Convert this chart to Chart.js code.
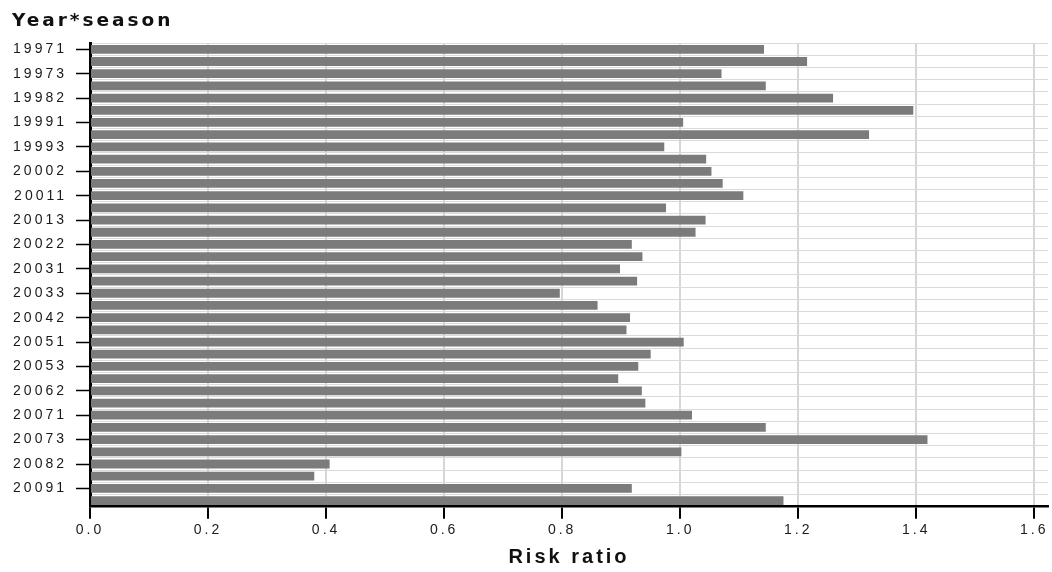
<!DOCTYPE html>
<html>
<head>
<meta charset="utf-8">
<script src="https://cdn.jsdelivr.net/npm/chart.js@4/dist/chart.umd.min.js"></script>
<style>
  html, body { margin: 0; padding: 0; background: #fff; }
  #c { display: block; }
</style>
</head>
<body>
<canvas id="c" width="1052" height="572"></canvas>
<script>
const categories = [
  '19971','19972','19973','19981','19982','19983','19991','19992','19993',
  '20001','20002','20003','20011','20012','20013','20021','20022','20023',
  '20031','20032','20033','20041','20042','20043','20051','20052','20053',
  '20061','20062','20063','20071','20072','20073','20081','20082','20083',
  '20091','20092'
];
const riskRatio = [
  1.142, 1.215, 1.070, 1.145, 1.259, 1.395, 1.005, 1.320, 0.973,
  1.044, 1.053, 1.072, 1.107, 0.976, 1.043, 1.026, 0.918, 0.936,
  0.898, 0.927, 0.796, 0.860, 0.915, 0.909, 1.006, 0.950, 0.929,
  0.895, 0.935, 0.941, 1.020, 1.145, 1.419, 1.002, 0.406, 0.380,
  0.918, 1.175
];
const xTickValues = [0, 0.2, 0.4, 0.6, 0.8, 1.0, 1.2, 1.4, 1.6];
const titleText = 'Year*season';
const xTitleText = 'Risk ratio';

const spacing = {
  id: 'spacing',
  afterInit(chart) { chart.ctx.letterSpacing = '3px'; },
  beforeUpdate(chart) { chart.ctx.letterSpacing = '3px'; },
  beforeDraw(chart) { chart.ctx.letterSpacing = '3px'; }
};

new Chart(document.getElementById('c'), {
  type: 'bar',
  data: {
    labels: categories,
    datasets: [{
      data: riskRatio,
      backgroundColor: '#7b7b7b',
      borderWidth: 0,
      barPercentage: 0.72,
      categoryPercentage: 1.0,
      yAxisID: 'y'
    }]
  },
  plugins: [spacing],
  options: {
    indexAxis: 'y',
    responsive: false,
    animation: false,
    layout: { padding: { left: 12, right: 4, top: 0, bottom: 0 } },
    plugins: {
      legend: { display: false },
      tooltip: { enabled: false },
      title: {
        display: true,
        text: titleText,
        align: 'start',
        color: '#111',
        font: { family: 'DejaVu Sans', weight: 'bold', size: 18.5 },
        padding: { top: 10, bottom: 11 }
      }
    },
    scales: {
      x: {
        type: 'linear',
        min: 0,
        max: 1.6232,
        afterBuildTicks(scale) {
          scale.ticks = xTickValues.map(v => ({ value: v }));
        },
        afterFit(scale) { scale.height = 65.3; },
        grid: {
          color: '#d6d6d6',
          lineWidth: 2,
          tickColor: '#000',
          tickLength: 12,
          tickWidth: 2
        },
        border: { display: true, color: '#000', width: 2.5 },
        ticks: {
          color: '#1a1a1a',
          padding: 3,
          font: { family: 'Liberation Sans', size: 14 },
          callback: v => Number(v).toFixed(1)
        },
        title: {
          display: true,
          text: xTitleText,
          color: '#111',
          font: { family: 'Liberation Sans', weight: 'bold', size: 20 },
          padding: { top: 0, bottom: 3 }
        }
      },
      y: {
        type: 'category',
        position: 'left',
        offset: true,
        afterFit(scale) { scale.width = 0; },
        grid: {
          offset: true,
          color: '#dadada',
          lineWidth: 1,
          drawTicks: false
        },
        border: { display: false },
        ticks: { display: false }
      },
      y2: {
        type: 'category',
        position: 'left',
        offset: true,
        afterFit(scale) { scale.width = 78; },
        grid: {
          offset: false,
          drawOnChartArea: false,
          tickLength: 14,
          tickWidth: 1.5,
          tickColor: ctx => (ctx.index % 2 === 0 ? '#000' : 'rgba(0,0,0,0)')
        },
        border: { display: true, color: '#000', width: 3 },
        ticks: {
          autoSkip: false,
          padding: 9,
          color: '#1a1a1a',
          font: { family: 'Liberation Sans', size: 14 },
          callback: (v, i) => (i % 2 === 0 ? categories[i] : '')
        }
      }
    }
  }
});
</script>
</body>
</html>
